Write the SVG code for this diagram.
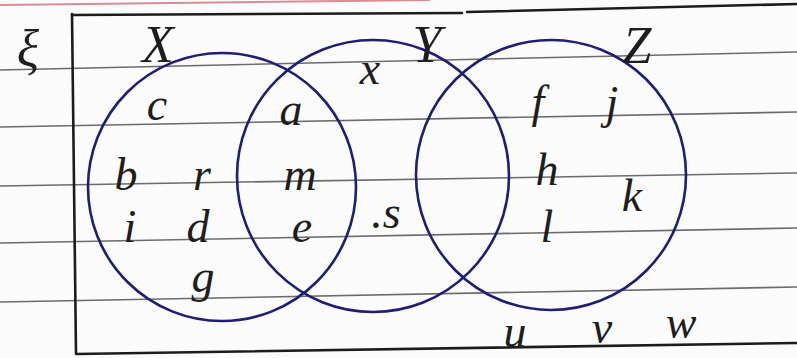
<svg xmlns="http://www.w3.org/2000/svg" width="797" height="358" viewBox="0 0 797 358">
<style>
.rule{stroke:#6b6b6b;stroke-width:1.6;fill:none}
.box{stroke:#1c1c1c;stroke-width:2.6;fill:none;stroke-linecap:round}
.set{stroke:#1f1d78;stroke-width:2.6;fill:none}
.t{font-family:"Liberation Serif","DejaVu Serif",serif;font-style:italic;font-size:46px;fill:#1e1e1e;text-anchor:middle}
.cap{font-family:"Liberation Serif","DejaVu Serif",serif;font-style:italic;font-size:52px;fill:#1e1e1e;text-anchor:middle}
</style>
<rect width="797" height="358" fill="#fbfbfb"/>
<g id="paper">
<line x1="0" y1="5" x2="430" y2="0" stroke="#d98a95" stroke-width="2"/>
<line class="rule" x1="0" y1="70" x2="797" y2="52"/>
<line class="rule" x1="0" y1="127" x2="797" y2="112"/>
<line class="rule" x1="0" y1="186" x2="797" y2="173"/>
<line class="rule" x1="0" y1="243" x2="797" y2="228"/>
<line class="rule" x1="0" y1="302" x2="797" y2="287"/>
</g>
<g id="universe">
<line class="box" x1="72" y1="15" x2="462" y2="13"/>
<line class="box" x1="467" y1="12" x2="797" y2="4"/>
<line class="box" x1="72" y1="14" x2="76" y2="353"/>
<line class="box" x1="76" y1="354" x2="797" y2="343"/>
<text class="cap" x="28" y="66" font-size="64">ξ</text>
</g>
<g id="set-X">
<circle class="set" cx="222" cy="187" r="134"/>
<text class="cap" x="158" y="62">X</text>
</g>
<g id="set-Y">
<circle class="set" cx="373" cy="176" r="136"/>
<text class="cap" x="427" y="62" font-size="58">Y</text>
</g>
<g id="set-Z">
<circle class="set" cx="551" cy="175" r="135"/>
<text class="cap" x="637" y="63">Z</text>
</g>
<g id="elements">
<text class="t" x="370" y="84">x</text>
<text class="t" x="157" y="120">c</text>
<text class="t" x="291" y="125">a</text>
<text class="t" x="538" y="117">f</text>
<text class="t" x="612" y="118">j</text>
<text class="t" x="126" y="190">b</text>
<text class="t" x="202" y="190">r</text>
<text class="t" x="300" y="190">m</text>
<text class="t" x="547" y="185">h</text>
<text class="t" x="632" y="211">k</text>
<text class="t" x="130" y="242">i</text>
<text class="t" x="198" y="242">d</text>
<text class="t" x="302" y="242">e</text>
<text class="t" x="386" y="228" font-size="38">.s</text>
<text class="t" x="547" y="242">l</text>
<text class="t" x="203" y="292">g</text>
<text class="t" x="515" y="347">u</text>
<text class="t" x="602" y="343">v</text>
<text class="t" x="681" y="338">w</text>
</g>
</svg>
